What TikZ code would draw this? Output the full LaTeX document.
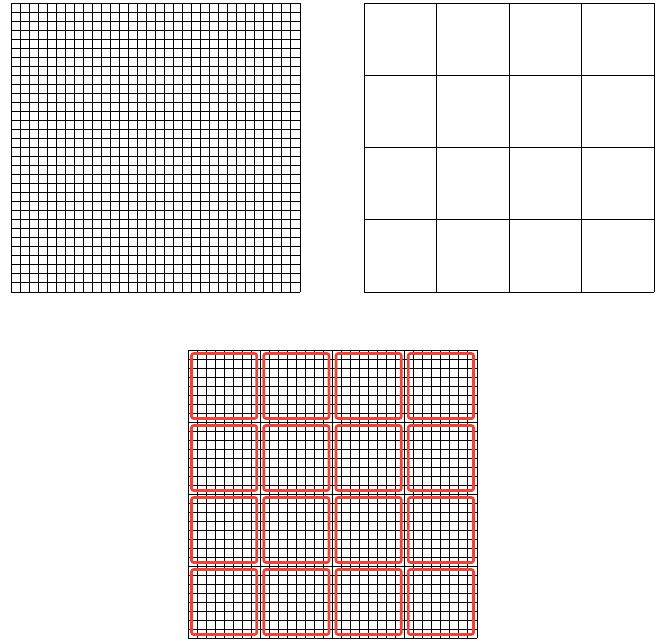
\documentclass[tikz,border=0pt]{standalone}
\definecolor{gridred}{RGB}{232,68,58}
\begin{document}
\begin{tikzpicture}[x=1pt,y=-1pt,
  gridline/.style={line width=1pt, black},
  block/.style={draw=gridred, line width=2.6pt, rounded corners=2pt}]
\useasboundingbox (0,0) rectangle (664,643);
% left fine grid 32x32
\foreach \i in {0,...,32} {
  \draw[gridline] ({11+\i*289/32},3) -- ({11+\i*289/32},292);
  \draw[gridline] (11,{3+\i*289/32}) -- (300,{3+\i*289/32});
}
% right coarse grid 4x4
\foreach \i in {0,...,4} {
  \draw[gridline] ({364+\i*290/4},3) -- ({364+\i*290/4},292);
  \draw[gridline] (364,{3+\i*289/4}) -- (654,{3+\i*289/4});
}
% bottom fine grid 32x32
\foreach \i in {0,...,32} {
  \draw[gridline] ({188+\i*289/32},350) -- ({188+\i*289/32},638);
  \draw[gridline] (188,{350+\i*288/32}) -- (477,{350+\i*288/32});
}
% red blocks
\foreach \bi in {0,...,3} {
  \foreach \bj in {0,...,3} {
    \draw[block] ({188+\bi*289/4+3.5},{350+\bj*288/4+3.5}) rectangle ({188+(\bi+1)*289/4-3.5},{350+(\bj+1)*288/4-3.5});
  }
}
\end{tikzpicture}
\end{document}
